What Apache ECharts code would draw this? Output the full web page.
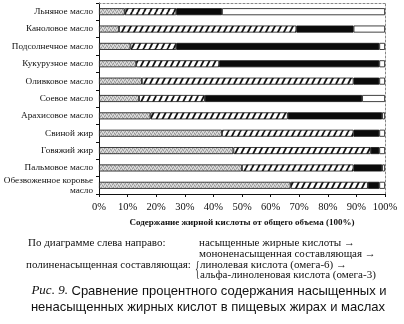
<!DOCTYPE html>
<html>
<head>
<meta charset="utf-8">
<script src="https://cdn.jsdelivr.net/npm/echarts@6/dist/echarts.min.js"></script>
<style>
  html, body { margin: 0; padding: 0; background: #fff; }
  #chart { width: 404px; height: 324px; }
</style>
</head>
<body>
<div id="chart"></div>
<script>
// Fat composition of edible oils and fats, % of total fatty acids
const categories = [
  'Льняное масло', 'Каноловое масло', 'Подсолнечное масло', 'Кукурузное масло',
  'Оливковое масло', 'Соевое масло', 'Арахисовое масло', 'Свиной жир',
  'Говяжий жир', 'Пальмовое масло', 'Обезвоженное коровье\nмасло'
];
const saturated       = [9, 7, 11, 13, 15, 14, 18, 43, 47, 50, 67];
const monounsaturated = [18, 62, 16, 29, 74, 23, 48, 46, 48, 39, 27];
const linoleic        = [16, 20, 71, 56, 9, 55, 33, 9, 3, 10, 4];
const alphaLinolenic  = [57, 11, 2, 2, 2, 8, 1, 2, 2, 1, 2];
const xTicks = [0, 10, 20, 30, 40, 50, 60, 70, 80, 90, 100];

// Fill textures
function stipplePattern() {
  const c = document.createElement('canvas');
  c.width = 4; c.height = 4;
  const g = c.getContext('2d');
  g.fillStyle = '#c6c6c6';
  g.fillRect(0, 0, 4, 4);
  const dark = [[0, 0], [2, 1], [1, 3], [3, 2]];
  const light = [[1, 1], [3, 0], [0, 2], [2, 3]];
  g.fillStyle = '#9a9a9a';
  dark.forEach(p => g.fillRect(p[0], p[1], 1, 1));
  g.fillStyle = '#e2e2e2';
  light.forEach(p => g.fillRect(p[0], p[1], 1, 1));
  return c;
}
function hatchPattern() {
  const c = document.createElement('canvas');
  c.width = 6; c.height = 12;
  const g = c.getContext('2d');
  g.fillStyle = '#fff';
  g.fillRect(0, 0, 6, 12);
  g.strokeStyle = '#111';
  g.lineWidth = 1.8;
  [-6, 0, 6].forEach(dx => {
    g.beginPath();
    g.moveTo(dx, 12);
    g.lineTo(dx + 6, 0);
    g.stroke();
  });
  return c;
}

const serif = '"Liberation Serif", "DejaVu Serif", serif';
const sans = '"Liberation Sans", Arial, sans-serif';
const border = { borderColor: '#111', borderWidth: 0.8 };

function stackSeries(name, data, color) {
  return {
    name, type: 'bar', stack: 'total', data,
    barWidth: 7,
    itemStyle: Object.assign({ color }, border),
    emphasis: { disabled: true }
  };
}

const chart = echarts.init(document.getElementById('chart'), null, { renderer: 'canvas' });
chart.setOption({
  animation: false,
  backgroundColor: '#fff',
  grid: { left: 99, top: 3, width: 286, height: 191, containLabel: false, outerBoundsMode: 'none' },
  xAxis: [{
    type: 'value', min: 0, max: 100, interval: 10,
    axisLine: { show: true, lineStyle: { color: '#111', width: 1 } },
    axisTick: { show: true, length: 3, lineStyle: { color: '#111' } },
    splitLine: { show: false },
    axisLabel: {
      formatter: v => xTicks.includes(v) ? v + '%' : '',
      color: '#111', fontFamily: serif, fontSize: 10.5, margin: 8
    },
    name: 'Содержание жирной кислоты от общего объема (100%)',
    nameLocation: 'middle', nameGap: 24,
    nameTextStyle: { color: '#111', fontFamily: serif, fontSize: 9, fontWeight: 'bold' }
  }, {
    type: 'value', min: 0, max: 100, position: 'top',
    axisLine: { show: true, onZero: false, lineStyle: { color: '#888', type: [2, 2], width: 1 } },
    axisTick: { show: false }, axisLabel: { show: false }, splitLine: { show: false }
  }],
  yAxis: [{
    type: 'category', data: categories, inverse: true,
    axisLine: { show: true, lineStyle: { color: '#111', width: 1 } },
    axisTick: { show: true, length: 3, lineStyle: { color: '#111' } },
    axisLabel: {
      color: '#111', fontFamily: serif, fontSize: 9.2, margin: 6, lineHeight: 10
    }
  }, {
    type: 'value', position: 'right',
    axisLine: { show: true, onZero: false, lineStyle: { color: '#888', type: [2, 2], width: 1 } },
    axisTick: { show: false }, axisLabel: { show: false }, splitLine: { show: false }
  }],
  series: [
    stackSeries('насыщенные жирные кислоты', saturated, { image: stipplePattern(), repeat: 'repeat' }),
    stackSeries('мононенасыщенная составляющая', monounsaturated, { image: hatchPattern(), repeat: 'repeat' }),
    stackSeries('линолевая кислота (омега-6)', linoleic, '#0b0b0b'),
    stackSeries('альфа-линоленовая кислота (омега-3)', alphaLinolenic, '#ffffff')
  ],
  graphic: [
    { type: 'text', style: { x: 28, y: 243, text: 'По диаграмме слева направо:', font: '11px ' + serif, fill: '#111', verticalAlign: 'middle' } },
    { type: 'text', style: { x: 199, y: 243, text: 'насыщенные жирные кислоты →', font: '11px ' + serif, fill: '#111', verticalAlign: 'middle' } },
    { type: 'text', style: { x: 199, y: 254, text: 'мононенасыщенная составляющая →', font: '11px ' + serif, fill: '#111', verticalAlign: 'middle' } },
    { type: 'text', style: { x: 26, y: 265, text: 'полиненасыщенная составляющая:', font: '11px ' + serif, fill: '#111', verticalAlign: 'middle' } },
    { type: 'text', x: 195, y: 270, scaleX: 0.5,
      style: { x: 0, y: 0, text: '{', font: '20px ' + serif, fill: '#333', verticalAlign: 'middle' } },
    { type: 'text', style: { x: 200, y: 265, text: 'линолевая кислота (омега-6) →', font: '11px ' + serif, fill: '#111', verticalAlign: 'middle' } },
    { type: 'text', style: { x: 200, y: 275, text: 'альфа-линоленовая кислота (омега-3)', font: '11px ' + serif, fill: '#111', verticalAlign: 'middle' } },
    { type: 'text', style: {
        x: 209, y: 291, align: 'center', verticalAlign: 'middle',
        text: '{i|Рис. 9.} Сравнение процентного содержания насыщенных и',
        font: '13px ' + sans, fill: '#111',
        rich: { i: { fontFamily: serif, fontStyle: 'italic', fontSize: 13, fill: '#111' } }
    } },
    { type: 'text', style: {
        x: 208, y: 307, align: 'center', verticalAlign: 'middle',
        text: 'ненасыщенных жирных кислот в пищевых жирах и маслах',
        font: '13px ' + sans, fill: '#111'
    } }
  ]
});
</script>
</body>
</html>
